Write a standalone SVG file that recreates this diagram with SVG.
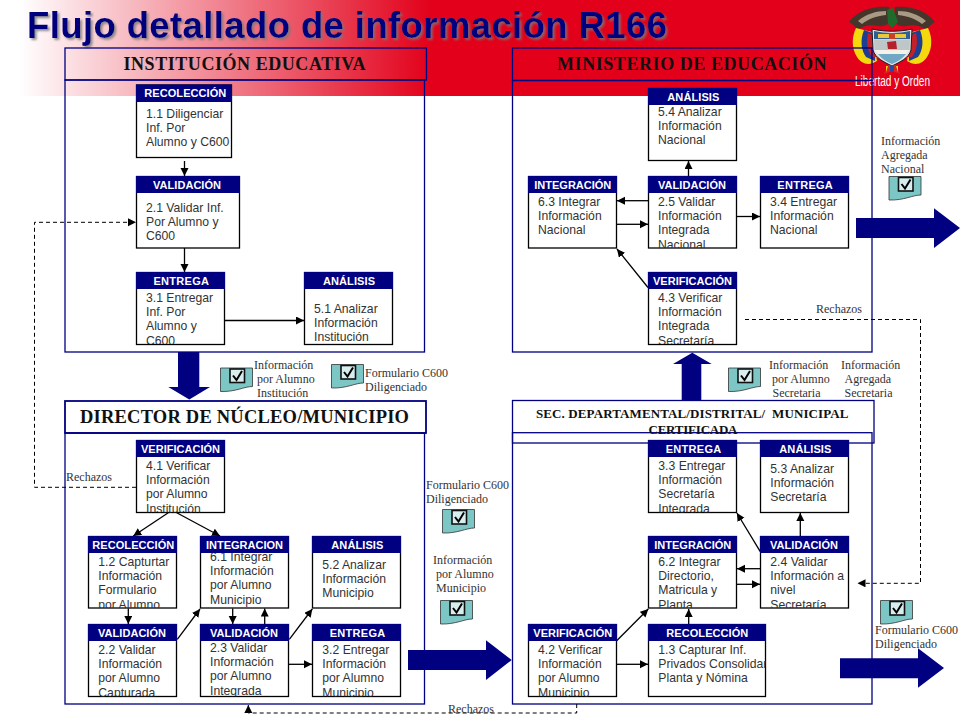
<svg xmlns="http://www.w3.org/2000/svg" xmlns:xlink="http://www.w3.org/1999/xlink" width="960" height="720" viewBox="0 0 960 720">
<style>
text{font-family:"Liberation Sans",Arial,sans-serif}
.title{font-size:36.5px;font-weight:bold;fill:#00007e;filter:url(#sh)}
.ph{font-family:"Liberation Serif","Times New Roman",serif;font-weight:bold;fill:#111}
.panel{fill:none;stroke:#000080;stroke-width:1.3}
.box{fill:#fff;stroke:#000;stroke-width:1.3}
.hd{fill:#000080;stroke:#000080;stroke-width:1}
.ht{font-size:11px;font-weight:bold;fill:#fff}
.bt{font-size:12.2px;fill:#333}
.lb{font-family:"Liberation Serif","Times New Roman",serif;font-size:12px;fill:#333}
.c{fill:none;stroke:#000;stroke-width:1.3;marker-end:url(#ah)}
.d{fill:none;stroke:#000;stroke-width:1;stroke-dasharray:4 3}
.da{marker-end:url(#ah)}
.big{fill:#000080}
</style>
<defs>
<linearGradient id="bg" x1="0" y1="0" x2="1" y2="0"><stop offset="0" stop-color="#fff"/><stop offset="0.02" stop-color="#fff"/><stop offset="0.45" stop-color="#e2001a"/><stop offset="1" stop-color="#e2001a"/></linearGradient>
<filter id="sh" x="-5%" y="-20%" width="110%" height="140%"><feDropShadow dx="2" dy="2" stdDeviation="0.8" flood-color="#777" flood-opacity="0.8"/></filter>
<marker id="ah" markerUnits="userSpaceOnUse" markerWidth="9" markerHeight="9" refX="8" refY="4" orient="auto"><path d="M0,0L8,4L0,8Z" fill="#000"/></marker>
<symbol id="doc" viewBox="0 0 33 25" width="33" height="25" overflow="visible">
<path d="M0.5,0.5H32.5V19C24,19 16,24.5 0.5,24Z" fill="#7cc6c6" stroke="#333" stroke-width="0.8"/>
<rect x="10" y="1.5" width="14.5" height="13.5" fill="#d8eeee" stroke="#111" stroke-width="1.6"/>
<path d="M13,8L16.5,12.5L22,3.5" fill="none" stroke="#000" stroke-width="2"/>
</symbol>
<clipPath id="c31"><rect x="136" y="288" width="89" height="56"/></clipPath>
<clipPath id="c25"><rect x="648" y="192" width="89" height="56"/></clipPath>
<clipPath id="c43"><rect x="648" y="288" width="89" height="56"/></clipPath>
<clipPath id="c41"><rect x="136" y="457" width="89" height="55.5"/></clipPath>
<clipPath id="c12"><rect x="88" y="552" width="89" height="56"/></clipPath>
<clipPath id="c61"><rect x="200" y="552" width="89" height="56"/></clipPath>
<clipPath id="c22"><rect x="88" y="640" width="89" height="56.5"/></clipPath>
<clipPath id="c23"><rect x="200" y="640" width="89" height="56.5"/></clipPath>
<clipPath id="c32"><rect x="312" y="640" width="89" height="56.5"/></clipPath>
<clipPath id="c33"><rect x="648" y="456" width="89" height="56.5"/></clipPath>
<clipPath id="c62"><rect x="648" y="552" width="89" height="56"/></clipPath>
<clipPath id="c24"><rect x="760" y="552" width="89" height="56"/></clipPath>
<clipPath id="c42"><rect x="528" y="640" width="89" height="56.5"/></clipPath>
<clipPath id="c13"><rect x="648" y="640" width="118" height="56.5"/></clipPath>
</defs>

<rect width="960" height="720" fill="#fff"/>
<rect id="banner" x="0" y="0" width="960" height="96" fill="url(#bg)"/>

<g id="emblem">
<path d="M849,22C856,12 872,5 889,7L890,17C891,24 884,27 878,26C868,24 860,27 858,31C856,27 853,24 849,22Z" fill="#44362a"/>
<path d="M935,22C928,12 912,5 895,7L894,17C893,24 900,27 906,26C916,24 924,27 926,31C928,27 931,24 935,22Z" fill="#44362a"/>
<path d="M858,21C866,14 876,11 886,11L886,15C876,16 868,19 862,24Z" fill="#a89a84"/>
<path d="M926,21C918,14 908,11 898,11L898,15C908,16 916,19 922,24Z" fill="#a89a84"/>
<path d="M887,10L893,8L898,22L892,28L888,24Z" fill="#1f6b2c"/>
<path d="M856,28C852,36 851,48 857,57C861,63 868,67 877,61L872,32Z" fill="#f4d90f"/>
<path d="M928,28C932,36 933,48 927,57C923,63 916,67 907,61L912,32Z" fill="#f4d90f"/>
<path d="M864,30C860,40 861,50 866,57L875,61L876,34Z" fill="#1c3f94"/>
<path d="M920,30C924,40 923,50 918,57L909,61L908,34Z" fill="#1c3f94"/>
<path d="M868,33C866,42 867,50 872,57L876,57L875,36Z" fill="#c5202a"/>
<path d="M916,33C918,42 917,50 912,57L908,57L909,36Z" fill="#c5202a"/>
<path d="M872,29C885,32 900,32 912,29L911,50C909,58 900,62 892,66C884,62 875,58 873,50Z" fill="#dfe3e4" stroke="#1a1a1a" stroke-width="1"/>
<path d="M874,31C885,33.5 899,33.5 910,31L910,39L874,39Z" fill="#2f5f93"/>
<path d="M878,34H889V38H878ZM895,34H906V38H895Z" fill="#e9c93a"/>
<path d="M889,33H895V39H889Z" fill="#c9402a"/>
<path d="M874,39.5L910,39.5L909.5,50L874.5,50Z" fill="#bfc6c8"/>
<path d="M887,42L896,41L897,49L888,49Z" fill="#b5202a"/>
<path d="M875,50H909C908,52 907,53 906,54H878C877,53 876,52 875,50Z" fill="#f2f2e8"/>
<path d="M878,54H906C902,59 897,62 892,64C887,62 882,59 878,54Z" fill="#6fa7c4"/>
<path d="M888,65L896,65L900,74L892,71L884,74Z" fill="#d8261f"/>
<path d="M890,65L894,65L894,72L890,72Z" fill="#2b4aa0"/>
<path d="M886,66L888,66L886,72ZM898,66L896,66L898,72Z" fill="#f4d90f"/>
<text x="855" y="86" font-size="14" fill="#fff" textLength="75" lengthAdjust="spacingAndGlyphs">Libertad y Orden</text>
</g>

<text id="title" class="title" x="27" y="38" textLength="640">Flujo detallado de información R166</text>

<g id="panels">
<g id="p-institucion"><rect class="panel" x="65" y="48" width="361.5" height="32"/><rect class="panel" x="65" y="80" width="359.5" height="272"/><text class="ph" x="123.5" y="70" font-size="18" textLength="242">INSTITUCIÓN EDUCATIVA</text></g>
<g id="p-ministerio"><rect class="panel" x="512.5" y="48" width="359.5" height="32.5"/><rect class="panel" x="512.5" y="80.5" width="359.5" height="271.5"/><text class="ph" x="557" y="70" font-size="18" textLength="269.5">MINISTERIO DE EDUCACIÓN</text></g>
<g id="p-director"><rect class="panel" x="65" y="401" width="361" height="32" stroke-width="1.8" style="stroke-width:1.8"/><rect class="panel" x="65" y="433" width="359.5" height="271"/><text class="ph" x="80" y="423" font-size="18.5" textLength="329">DIRECTOR DE NÚCLEO/MUNICIPIO</text></g>
<g id="p-sec"><rect class="panel" x="512.5" y="400.5" width="361.5" height="42.5"/><rect class="panel" x="512.5" y="432.7" width="359.5" height="271.3"/><text class="ph" x="536" y="418" font-size="13" textLength="312.5" xml:space="preserve">SEC. DEPARTAMENTAL/DISTRITAL/  MUNICIPAL</text><text class="ph" x="648.5" y="433.5" font-size="13" textLength="89">CERTIFICADA</text></g>
</g>

<g id="connectors">
<path class="c" d="M184.5,161V176"/>
<path class="c" d="M184.5,248V272"/>
<path class="c" d="M224.5,320.5H304"/>
<path class="d da" d="M136,487.3H34.5V222.3H136"/>
<path class="c" d="M688.5,176V161"/>
<path class="c" d="M648,200.7H617"/>
<path class="c" d="M617,224.3H648"/>
<path class="c" d="M737,216.5H760"/>
<path class="c" d="M648,287.5L617,249"/>
<path class="d da" d="M745,319.5H920.5V583.3H857.5"/>
<path class="c" d="M168.3,512.7L133.3,536"/>
<path class="c" d="M176.7,512.7L220,536"/>
<path class="c" d="M128.3,608.5V624"/>
<path class="c" d="M177.3,639.3L200,609"/>
<path class="c" d="M232.7,608.5V624"/>
<path class="c" d="M264.7,624V608.5"/>
<path class="c" d="M289.3,639.3L312.3,609"/>
<path class="c" d="M288.7,664.3H312"/>
<path class="d da" d="M576.7,704V713H248.3V705"/>
<path class="c" d="M616.7,640.7L648.3,609"/>
<path class="c" d="M617,664.3H648"/>
<path class="c" d="M688.7,624V609"/>
<path class="c" d="M760.3,551.7L736.9,513"/>
<path class="c" d="M800.3,536V513"/>
<path class="c" d="M760,568.7H737"/>
<path class="c" d="M737,584.3H760"/>
</g>

<g id="big-arrows">
<path class="big" d="M178,352H199.3V387H210L189.3,399.5L168.3,387H178Z"/>
<path class="big" d="M681.7,400H701.3V364H711.7L692.3,352.7L673,364H681.7Z"/>
<path class="big" d="M856,218H934V208.3L960,228L934,248V238H856Z"/>
<path class="big" d="M408,650H486V640.3L511.7,660L486,680V670H408Z"/>
<path class="big" d="M840,658.3H918V648.3L944,668L918,687.7V678.3H840Z"/>
</g>

<g id="n-1-1"><rect class="box" x="136.5" y="85" width="95" height="72.5"/><rect class="hd" x="136.5" y="85" width="95" height="16.5"/><text class="ht" x="144.3" y="97" textLength="82">RECOLECCIÓN</text><text class="bt" x="146"><tspan x="146" y="118">1.1 Diligenciar</tspan><tspan x="146" y="132">Inf.  Por</tspan><tspan x="146" y="146">Alumno y C600</tspan></text></g>
<g id="n-2-1"><rect class="box" x="136.5" y="176.5" width="103" height="71.5"/><rect class="hd" x="136.5" y="176.5" width="103" height="16"/><text class="ht" x="153" y="188.5" textLength="68">VALIDACIÓN</text><text class="bt"><tspan x="146" y="212">2.1 Validar Inf.</tspan><tspan x="146" y="226">Por Alumno y</tspan><tspan x="146" y="240">C600</tspan></text></g>
<g id="n-3-1"><rect class="box" x="136.5" y="272.5" width="88" height="72"/><text class="bt" clip-path="url(#c31)"><tspan x="146" y="302">3.1 Entregar</tspan><tspan x="146" y="316">Inf.  Por</tspan><tspan x="146" y="330">Alumno y</tspan><tspan x="146" y="344.5">C600</tspan></text><rect class="hd" x="136.5" y="272.5" width="88" height="16"/><text class="ht" x="153.5" y="284.5" textLength="55.5">ENTREGA</text></g>
<g id="n-5-1"><rect class="box" x="304.5" y="272.5" width="88" height="72"/><rect class="hd" x="304.5" y="272.5" width="88" height="16"/><text class="ht" x="323" y="284.5" textLength="52">ANÁLISIS</text><text class="bt"><tspan x="314" y="313">5.1 Analizar</tspan><tspan x="314" y="327">Información</tspan><tspan x="314" y="341">Institución</tspan></text></g>

<g id="n-5-4"><rect class="box" x="648.5" y="88.5" width="88" height="72"/><rect class="hd" x="648.5" y="88.5" width="88" height="16"/><text class="ht" x="667.3" y="100.5" textLength="52">ANÁLISIS</text><text class="bt"><tspan x="658" y="116">5.4 Analizar</tspan><tspan x="658" y="130">Información</tspan><tspan x="658" y="144">Nacional</tspan></text></g>
<g id="n-2-5"><rect class="box" x="648.5" y="176.5" width="88" height="71.5"/><text class="bt" clip-path="url(#c25)"><tspan x="658" y="206">2.5 Validar</tspan><tspan x="658" y="220">Información</tspan><tspan x="658" y="234">Integrada</tspan><tspan x="658" y="248.5">Nacional</tspan></text><rect class="hd" x="648.5" y="176.5" width="88" height="16"/><text class="ht" x="658" y="188.5" textLength="68">VALIDACIÓN</text></g>
<g id="n-6-3"><rect class="box" x="528.5" y="176.5" width="88" height="71.5"/><rect class="hd" x="528.5" y="176.5" width="88" height="16"/><text class="ht" x="534.3" y="188.5" textLength="77">INTEGRACIÓN</text><text class="bt"><tspan x="538" y="206">6.3 Integrar</tspan><tspan x="538" y="220">Información</tspan><tspan x="538" y="234">Nacional</tspan></text></g>
<g id="n-3-4"><rect class="box" x="760.5" y="176.5" width="88" height="71.5"/><rect class="hd" x="760.5" y="176.5" width="88" height="16"/><text class="ht" x="777.3" y="188.5" textLength="55.5">ENTREGA</text><text class="bt"><tspan x="770" y="206">3.4 Entregar</tspan><tspan x="770" y="220">Información</tspan><tspan x="770" y="234">Nacional</tspan></text></g>
<g id="n-4-3"><rect class="box" x="648.5" y="272.5" width="88" height="72"/><text class="bt" clip-path="url(#c43)"><tspan x="658" y="302">4.3 Verificar</tspan><tspan x="658" y="316">Información</tspan><tspan x="658" y="330">Integrada</tspan><tspan x="658" y="344.5">Secretaría</tspan></text><rect class="hd" x="648.5" y="272.5" width="88" height="16"/><text class="ht" x="653" y="284.5" textLength="79">VERIFICACIÓN</text></g>

<g id="n-4-1"><rect class="box" x="136.5" y="440.5" width="88" height="72"/><text class="bt" clip-path="url(#c41)"><tspan x="146" y="470">4.1 Verificar</tspan><tspan x="146" y="484">Información</tspan><tspan x="146" y="498">por Alumno</tspan><tspan x="146" y="512.5">Institución</tspan></text><rect class="hd" x="136.5" y="440.5" width="88" height="16"/><text class="ht" x="141" y="452.5" textLength="79">VERIFICACIÓN</text></g>
<g id="n-1-2"><rect class="box" x="88.5" y="536.5" width="88" height="71.5"/><text class="bt" clip-path="url(#c12)"><tspan x="98.3" y="566">1.2 Capturtar</tspan><tspan x="98.3" y="580">Información</tspan><tspan x="98.3" y="594">Formulario</tspan><tspan x="98.3" y="608.5">por Alumno</tspan></text><rect class="hd" x="88.5" y="536.5" width="88" height="16"/><text class="ht" x="92.3" y="548.5" textLength="82">RECOLECCIÓN</text></g>
<g id="n-6-1"><rect class="box" x="200.5" y="536.5" width="88" height="71.5"/><text class="bt" clip-path="url(#c61)"><tspan x="210" y="561">6.1 Integrar</tspan><tspan x="210" y="575">Información</tspan><tspan x="210" y="589">por Alumno</tspan><tspan x="210" y="603.5">Municipio</tspan></text><rect class="hd" x="200.5" y="536.5" width="88" height="16"/><text class="ht" x="206" y="548.5" textLength="77">INTEGRACION</text></g>
<g id="n-5-2"><rect class="box" x="312.5" y="536.5" width="88" height="71.5"/><rect class="hd" x="312.5" y="536.5" width="88" height="16"/><text class="ht" x="331.3" y="548.5" textLength="52">ANÁLISIS</text><text class="bt"><tspan x="322.3" y="569">5.2 Analizar</tspan><tspan x="322.3" y="583">Información</tspan><tspan x="322.3" y="597">Municipio</tspan></text></g>
<g id="n-2-2"><rect class="box" x="88.5" y="624.5" width="88" height="72"/><text class="bt" clip-path="url(#c22)"><tspan x="98.3" y="654">2.2 Validar</tspan><tspan x="98.3" y="668">Información</tspan><tspan x="98.3" y="682">por Alumno</tspan><tspan x="98.3" y="696.5">Capturada</tspan></text><rect class="hd" x="88.5" y="624.5" width="88" height="16"/><text class="ht" x="98" y="636.5" textLength="68">VALIDACIÓN</text></g>
<g id="n-2-3"><rect class="box" x="200.5" y="624.5" width="88" height="72"/><text class="bt" clip-path="url(#c23)"><tspan x="210" y="652">2.3 Validar</tspan><tspan x="210" y="666">Información</tspan><tspan x="210" y="680">por Alumno</tspan><tspan x="210" y="694.5">Integrada</tspan></text><rect class="hd" x="200.5" y="624.5" width="88" height="16"/><text class="ht" x="210" y="636.5" textLength="68">VALIDACIÓN</text></g>
<g id="n-3-2"><rect class="box" x="312.5" y="624.5" width="88" height="72"/><text class="bt" clip-path="url(#c32)"><tspan x="322.3" y="654">3.2 Entregar</tspan><tspan x="322.3" y="668">Información</tspan><tspan x="322.3" y="682">por Alumno</tspan><tspan x="322.3" y="696.5">Municipio</tspan></text><rect class="hd" x="312.5" y="624.5" width="88" height="16"/><text class="ht" x="329.7" y="636.5" textLength="55.5">ENTREGA</text></g>

<g id="n-3-3"><rect class="box" x="648.5" y="440.5" width="88" height="72"/><text class="bt" clip-path="url(#c33)"><tspan x="658.3" y="470">3.3 Entregar</tspan><tspan x="658.3" y="484">Información</tspan><tspan x="658.3" y="498">Secretaría</tspan><tspan x="658.3" y="512.5">Integrada</tspan></text><rect class="hd" x="648.5" y="440.5" width="88" height="16"/><text class="ht" x="665.7" y="452.5" textLength="55.5">ENTREGA</text></g>
<g id="n-5-3"><rect class="box" x="760.5" y="440.5" width="88" height="72"/><rect class="hd" x="760.5" y="440.5" width="88" height="16"/><text class="ht" x="779.3" y="452.5" textLength="52">ANÁLISIS</text><text class="bt"><tspan x="770.3" y="473">5.3 Analizar</tspan><tspan x="770.3" y="487">Información</tspan><tspan x="770.3" y="501">Secretaría</tspan></text></g>
<g id="n-6-2"><rect class="box" x="648.5" y="536.5" width="88" height="71.5"/><text class="bt" clip-path="url(#c62)"><tspan x="658.3" y="566">6.2 Integrar</tspan><tspan x="658.3" y="580">Directorio,</tspan><tspan x="658.3" y="594">Matricula y</tspan><tspan x="658.3" y="608.5">Planta</tspan></text><rect class="hd" x="648.5" y="536.5" width="88" height="16"/><text class="ht" x="654.3" y="548.5" textLength="77">INTEGRACIÓN</text></g>
<g id="n-2-4"><rect class="box" x="760.5" y="536.5" width="88" height="71.5"/><text class="bt" clip-path="url(#c24)"><tspan x="770.3" y="566">2.4 Validar</tspan><tspan x="770.3" y="580">Información a</tspan><tspan x="770.3" y="594">nivel</tspan><tspan x="770.3" y="608.5">Secretaría</tspan></text><rect class="hd" x="760.5" y="536.5" width="88" height="16"/><text class="ht" x="770" y="548.5" textLength="68">VALIDACIÓN</text></g>
<g id="n-4-2"><rect class="box" x="528.5" y="624.5" width="88" height="72"/><text class="bt" clip-path="url(#c42)"><tspan x="538" y="654">4.2 Verificar</tspan><tspan x="538" y="668">Información</tspan><tspan x="538" y="682">por Alumno</tspan><tspan x="538" y="696.5">Municipio</tspan></text><rect class="hd" x="528.5" y="624.5" width="88" height="16"/><text class="ht" x="533.3" y="636.5" textLength="79">VERIFICACIÓN</text></g>
<g id="n-1-3"><rect class="box" x="648.5" y="624.5" width="117" height="72"/><text class="bt" clip-path="url(#c13)"><tspan x="658.3" y="654">1.3 Capturar Inf.</tspan><tspan x="658.3" y="668">Privados Consolidar</tspan><tspan x="658.3" y="682">Planta y Nómina</tspan></text><rect class="hd" x="648.5" y="624.5" width="117" height="16"/><text class="ht" x="666.3" y="636.5" textLength="82">RECOLECCIÓN</text></g>

<g id="docs">
<use xlink:href="#doc" href="#doc" x="220" y="367.5"/>
<use xlink:href="#doc" href="#doc" x="331" y="364"/>
<use xlink:href="#doc" href="#doc" x="442" y="509"/>
<use xlink:href="#doc" href="#doc" x="440" y="600"/>
<use xlink:href="#doc" href="#doc" x="888.5" y="176"/>
<use xlink:href="#doc" href="#doc" x="728" y="367.5"/>
<use xlink:href="#doc" href="#doc" x="880" y="600"/>
</g>

<g id="labels">
<text class="lb"><tspan x="254" y="369">Información</tspan><tspan x="257" y="383">por Alumno</tspan><tspan x="257" y="397">Institución</tspan></text>
<text class="lb"><tspan x="365" y="377">Formulario C600</tspan><tspan x="365" y="391">Diligenciado</tspan></text>
<text class="lb"><tspan x="426" y="489">Formulario C600</tspan><tspan x="426" y="503">Diligenciado</tspan></text>
<text class="lb"><tspan x="433" y="564">Información</tspan><tspan x="436" y="578">por Alumno</tspan><tspan x="436" y="592">Municipio</tspan></text>
<text class="lb"><tspan x="881" y="145">Información</tspan><tspan x="881" y="159">Agregada</tspan><tspan x="881" y="173">Nacional</tspan></text>
<text class="lb"><tspan x="769" y="369">Información</tspan><tspan x="772" y="383">por Alumno</tspan><tspan x="772.5" y="397">Secretaria</tspan></text>
<text class="lb"><tspan x="841" y="369">Información</tspan><tspan x="844.5" y="383">Agregada</tspan><tspan x="844.5" y="397">Secretaria</tspan></text>
<text class="lb"><tspan x="875" y="633.5">Formulario C600</tspan><tspan x="875" y="647.5">Diligenciado</tspan></text>
<text class="lb" x="816" y="313">Rechazos</text>
<text class="lb" x="66" y="481">Rechazos</text>
<text class="lb" x="448" y="713">Rechazos</text>
</g>
</svg>
